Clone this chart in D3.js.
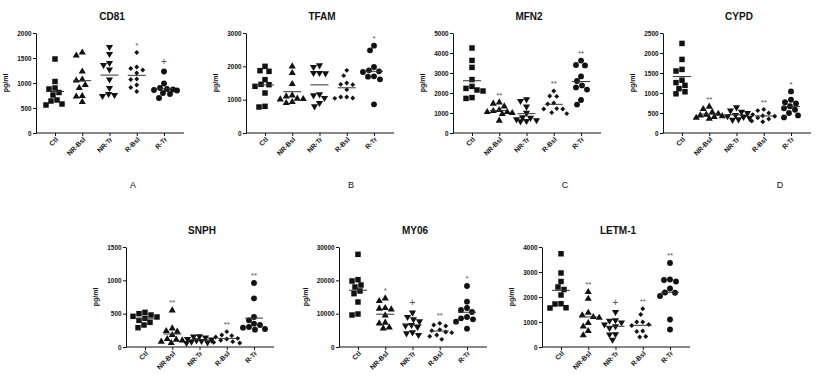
<!DOCTYPE html>
<html><head><meta charset="utf-8">
<script src="https://cdn.jsdelivr.net/npm/d3@7"></script>
<style>body{margin:0;background:#fff;} svg{display:block;font-family:"Liberation Sans",Arial,sans-serif;}</style>
</head><body><svg id="c" width="826" height="391"></svg>
<script>
const categories = ["Ctl","NR-Bsl","NR-Tr","R-Bsl","R-Tr"];
const titles = ["CD81","TFAM","MFN2","CYPD","SNPH","MY06","LETM-1"];
const panelLetters = ["A","B","C","D"];
const yMax = [2000,3000,5000,2500,1500,30000,4000];
const yTickStep = [500,1000,1000,500,500,10000,1000];

const cd81 = [
  [1480,1030,900,880,810,760,660,640,580,560],
  [1610,1550,1230,1070,1050,960,900,740,730,620],
  [1720,1580,1400,1360,1270,1070,900,780,760,740],
  [1610,1320,1290,1260,1200,1080,1070,960,910,830],
  [1230,990,900,880,870,860,850,800,780,700]];
const tfam = [
  [2000,1870,1850,1600,1460,1450,1400,1200,800,780],
  [2000,1800,1470,1130,1100,1030,1020,1010,930,900],
  [2030,1980,1800,1800,1790,1160,1130,1050,900,800],
  [1880,1720,1500,1460,1450,1300,1080,1080,1050,1040],
  [2620,2480,1980,1880,1850,1830,1700,1690,1610,860]];
const mfn2 = [
  [4250,3630,3280,2670,2330,2230,2150,2100,1770,1730],
  [1530,1470,1330,1150,1100,1050,1050,1000,950,620],
  [1680,1600,1320,1010,780,760,680,640,600,580],
  [2100,1850,1830,1500,1450,1220,1200,1200,1020,970],
  [3620,3400,3380,2830,2600,2380,2280,2170,1650,1420]];
const cypd = [
  [2240,1840,1590,1550,1320,1260,1190,1110,1030,980],
  [660,600,520,480,460,440,420,400,380,360],
  [640,560,530,500,450,420,400,380,340,330],
  [590,560,500,460,430,420,380,350,300,280],
  [1040,830,770,740,670,620,580,500,440,390]];
const snph = [
  [520,500,480,460,450,430,400,370,330,290],
  [550,280,240,230,180,120,110,100,80,60],
  [160,155,140,120,110,100,90,80,70,60],
  [230,180,170,150,130,120,100,80,70,60],
  [960,730,450,400,350,330,300,290,270,260]];
const my06 = [
  [27800,20200,19800,18600,18000,16800,16000,13500,9900,9600],
  [14600,13800,11700,11500,11300,9500,7300,7100,5900,5600],
  [10300,9000,8300,7700,6600,6400,6000,4400,4100,3600],
  [7100,6600,6300,5200,4900,4500,4300,3600,3200,2300],
  [18300,13600,11700,11100,10500,9000,8600,8300,7600,5500]];
const letm1 = [
  [3730,2960,2620,2400,2300,2080,1730,1720,1570,1560],
  [2200,1930,1370,1270,1200,1170,960,820,640,470],
  [1400,1070,1050,980,900,830,760,510,500,290],
  [1530,1300,1000,1000,900,860,640,620,420,400],
  [3360,2700,2680,2620,2340,2180,2170,2040,1100,700]];
const seriesData = [cd81, tfam, mfn2, cypd, snph, my06, letm1];
const significance = [
  ["","","","*","+"],
  ["","","","","*"],
  ["","**","","**","**"],
  ["","**","","**","*"],
  ["","**","","**","**"],
  ["","*","+","**","*"],
  ["","**","+","**","**"]];

// layout
const layout = [[36,33],[246,33],[453,33],[663,33],[126,247],[339,247],[542,247]];
const letterX = [133,351,565,780];
const W = 148, H = 100;
const svg = d3.select("#c");
const symbols = [d3.symbolSquare, d3.symbolTriangle, d3.symbolTriangle, d3.symbolSquare, d3.symbolCircle];
const symSize = [30, 22, 22, 12, 27];
const symRot = [0, 0, 180, 45, 0];

function swarm(vals, y, d, maxOff) {
  const order = vals.map((v,i)=>i).sort((a,b)=>vals[b]-vals[a]);
  const placed = [];
  const xs = new Array(vals.length);
  for (const i of order) {
    const py = y(vals[i]);
    let off = null, bestC = 0, bestD = -1;
    for (let k = 0; k <= 2*maxOff; k++) {
      const c = (k % 2 ? -1 : 1) * Math.ceil(k / 2);
      const md = placed.length ? d3.min(placed, p => Math.hypot(p[0]-c, p[1]-py)) : Infinity;
      if (md >= d) { off = c; break; }
      if (md > bestD) { bestD = md; bestC = c; }
    }
    if (off === null) off = bestC;
    placed.push([off, py]);
    xs[i] = off;
  }
  return xs;
}

seriesData.forEach((groups, pi) => {
  const [L, T] = layout[pi];
  const g = svg.append("g").attr("transform", `translate(${L},${T})`);
  const y = d3.scaleLinear().domain([0, yMax[pi]]).range([H, 0]);
  const x = d3.scalePoint().domain(categories).range([19, W - 20]);
  const ticks = d3.range(0, yMax[pi] + 1, yTickStep[pi]);

  const ya = g.append("g").call(d3.axisLeft(y).tickValues(ticks).tickSize(3).tickSizeOuter(0).tickPadding(1.5).tickFormat(d3.format("d")));
  ya.selectAll("text").attr("font-size", 6.4).attr("font-weight", "bold").attr("fill", "#111");
  ya.selectAll("line,path").attr("stroke", "#111");

  const xa = g.append("g").attr("transform", `translate(0,${H})`)
    .call(d3.axisBottom(x).tickSize(3).tickSizeOuter(0));
  xa.select(".domain").attr("d", `M0,0H${W}`);
  xa.selectAll("line,path").attr("stroke", "#111");
  xa.selectAll("text").attr("font-size", 6.8).attr("font-weight", "bold").attr("fill", "#111")
    .attr("text-anchor", "end").attr("dy", null).attr("y", 0)
    .attr("transform", "translate(3,7) rotate(-45)");

  g.append("text").attr("x", W/2 + 2).attr("y", -13.5).attr("text-anchor", "middle")
    .attr("font-size", 10).attr("font-weight", "bold").attr("fill", "#111").text(titles[pi]);

  const digits = String(yMax[pi]).length;
  g.append("text").attr("transform", `translate(${-(9 + digits*3.5 + 5)},${H/2}) rotate(-90)`)
    .attr("text-anchor", "middle").attr("font-size", 7).attr("font-weight", "bold").attr("fill", "#111").text("pg/ml");

  groups.forEach((vals, gi) => {
    const cx = x(categories[gi]);
    const offs = swarm(vals, y, 6, 13);
    g.append("g").selectAll("path").data(vals).join("path")
      .attr("d", d3.symbol(symbols[gi], symSize[gi]))
      .attr("transform", (v, i) => `translate(${cx + offs[i]},${y(v)}) rotate(${symRot[gi]})`)
      .attr("fill", "#111");
    const m = d3.mean(vals);
    g.append("line").attr("x1", cx - 9).attr("x2", cx + 9).attr("y1", y(m)).attr("y2", y(m))
      .attr("stroke", "#333").attr("stroke-width", 1);
    if (significance[pi][gi]) {
      g.append("text").attr("x", cx).attr("y", y(d3.max(vals)) - 9)
        .attr("dominant-baseline", "middle").attr("text-anchor", "middle")
        .attr("font-size", significance[pi][gi] === "+" ? 10 : 8).attr("fill", "#555")
        .attr("dy", significance[pi][gi] === "+" ? 0 : 2)
        .text(significance[pi][gi]);
    }
  });
});

panelLetters.forEach((l, i) => {
  svg.append("text").attr("x", letterX[i]).attr("y", 188).attr("text-anchor", "middle")
    .attr("font-size", 9).attr("fill", "#111").text(l);
});
</script></body></html>
